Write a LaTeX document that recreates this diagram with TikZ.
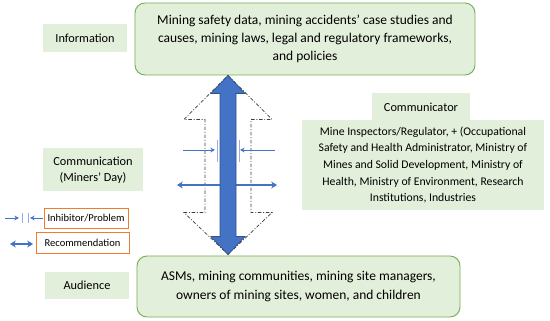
\documentclass[tikz,border=0pt]{standalone}
\usepackage{fontspec}
\setmainfont{Carlito}
\usetikzlibrary{arrows.meta, positioning, calc}
\definecolor{boxgreen}{RGB}{226,239,218}
\definecolor{edgegreen}{RGB}{120,175,85}
\definecolor{arrblue}{RGB}{68,114,196}
\definecolor{arrdark}{RGB}{47,82,143}
\definecolor{barblue}{RGB}{150,175,220}
\definecolor{edgeorange}{RGB}{237,125,49}
\definecolor{outline}{RGB}{60,60,60}
\tikzset{
  tag/.style={rectangle, fill=boxgreen, align=center, inner sep=0pt,
    font=\fontsize{10.5}{13.5}\selectfont},
  bigbox/.style={rectangle, draw=edgegreen, fill=boxgreen, align=center,
    rounded corners=0.3cm, line width=0.8pt, inner sep=0pt,
    font=\fontsize{11.5}{15.4}\selectfont},
  keybox/.style={rectangle, draw=edgeorange, fill=white, inner sep=0pt,
    line width=0.8pt, font=\fontsize{9}{11}\selectfont},
  thinarrow/.style={-{Stealth[length=4pt, width=4pt]}, arrblue, line width=0.7pt},
  recarrow/.style={{Stealth[length=5pt, width=6pt]}-{Stealth[length=5pt, width=6pt]},
    arrblue, line width=1.6pt},
  stopbar/.style={barblue, line width=0.6pt},
  ghost/.style={outline, line width=0.6pt,
    dash pattern=on 3pt off 1.5pt on 0.8pt off 1.5pt}
}

\begin{document}
\begin{tikzpicture}[x=0.03cm, y=-0.03cm]
  \useasboundingbox (0,0) rectangle (550,321);

  % Labels on the left
  \node[tag, minimum width=2.52cm, minimum height=0.84cm] (info) at (85,38) {Information};
  \node[tag, minimum width=3.0cm, minimum height=1.29cm] (comm) at (93,170) {Communication\\(Miners’ Day)};
  \node[tag, minimum width=2.52cm, minimum height=0.81cm] (aud) at (87,285.5) {Audience};

  % Content boxes
  \node[bigbox, minimum width=10.2cm, minimum height=2.16cm] (data) at (305,39)
    {Mining safety data, mining accidents’ case studies and\\
     causes, mining laws, legal and regulatory frameworks,\\
     and policies};
  \node[bigbox, minimum width=9.69cm, minimum height=1.83cm] (target) at (298.5,286.5)
    {ASMs, mining communities, mining site managers,\\
     owners of mining sites, women, and children};

  % Communicator
  \node[tag, minimum width=2.94cm, minimum height=0.81cm] (whohead) at (421,107) {Communicator};
  \node[tag, minimum width=7.26cm, minimum height=2.7cm,
        font=\fontsize{10}{14.2}\selectfont] (who) at (423,165)
    {Mine Inspectors/Regulator, + (Occupational\\
     Safety and Health Administrator, Ministry of\\
     Mines and Solid Development, Ministry of\\
     Health, Ministry of Environment, Research\\
     Institutions, Industries};

  % Key
  \node[keybox, minimum width=2.52cm, minimum height=0.6cm] (inhib) at (86,218) {Inhibitor/Problem};
  \node[keybox, minimum width=2.79cm, minimum height=0.63cm] (recom) at (82.5,242.5) {Recommendation};
  \draw[thinarrow] (5,218) -- (19,218);
  \draw[stopbar] (22,213) -- (22,223);
  \draw[stopbar] (28,213) -- (28,223);
  \draw[thinarrow] (43,218) -- (30,218);
  \draw[recarrow] (10,244) -- (33,244);

  % Channel between source and audience
  \coordinate (axis) at (228,0);
  \coordinate (up) at (data.south -| axis);
  \coordinate (dn) at ($(target.north -| axis)+(0,-1)$);

  \draw[ghost] (up) -- ($(up)+(44,44)$) -- ($(up)+(23,44)$) -- ($(dn)+(23,-42)$)
    -- ($(dn)+(44,-42)$) -- (dn) -- ($(dn)+(-44,-42)$) -- ($(dn)+(-23,-42)$)
    -- ($(up)+(-23,44)$) -- ($(up)+(-44,44)$) -- cycle;

  \draw[thinarrow] (183,150) -- (215,150);
  \draw[stopbar] (217,140) -- (217,162);
  \draw[stopbar] (239,140) -- (239,162);
  \draw[thinarrow] (275,150) -- (240,150);

  \draw[recarrow] (177,185) -- (277,185);

  \filldraw[fill=arrblue, draw=arrdark, line width=0.6pt]
    (up) -- ($(up)+(17,18)$) -- ($(up)+(8,18)$) -- ($(dn)+(8,-18)$)
    -- ($(dn)+(17,-18)$) -- (dn) -- ($(dn)+(-17,-18)$) -- ($(dn)+(-8,-18)$)
    -- ($(up)+(-8,18)$) -- ($(up)+(-17,18)$) -- cycle;
\end{tikzpicture}
\end{document}
